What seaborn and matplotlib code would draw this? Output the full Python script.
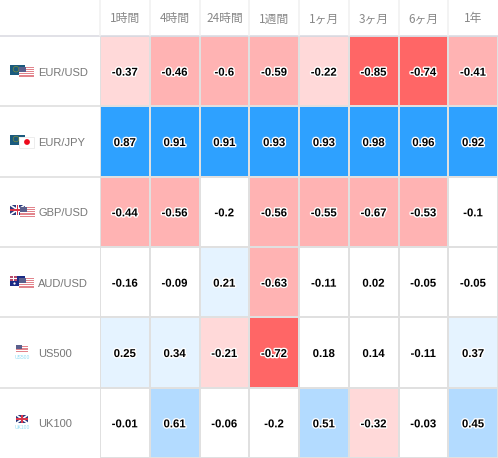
import matplotlib
matplotlib.use("Agg")
import matplotlib.pyplot as plt
import matplotlib.patheffects as pe
from matplotlib.colors import ListedColormap, BoundaryNorm
from matplotlib.patches import Rectangle, Circle
from matplotlib.transforms import ScaledTranslation
import numpy as np
import pandas as pd
import seaborn as sns

periods = ["1時間", "4時間", "24時間", "1週間", "1ヶ月", "3ヶ月", "6ヶ月", "1年"]
symbols = ["EUR/USD", "EUR/JPY", "GBP/USD", "AUD/USD", "US500", "UK100"]
eur_usd = [-0.37, -0.46, -0.6, -0.59, -0.22, -0.85, -0.74, -0.41]
eur_jpy = [0.87, 0.91, 0.91, 0.93, 0.93, 0.98, 0.96, 0.92]
gbp_usd = [-0.44, -0.56, -0.2, -0.56, -0.55, -0.67, -0.53, -0.1]
aud_usd = [-0.16, -0.09, 0.21, -0.63, -0.11, 0.02, -0.05, -0.05]
us500 = [0.25, 0.34, -0.21, -0.72, 0.18, 0.14, -0.11, 0.37]
uk100 = [-0.01, 0.61, -0.06, -0.2, 0.51, -0.32, -0.03, 0.45]

bin_edges = [-1, -0.7, -0.4, -0.2, 0.2, 0.4, 0.7, 1]
bin_colors = ["#ff6666", "#ffb3b3", "#ffd9d9", "#ffffff", "#e5f3ff", "#b3dbff", "#2ea1ff"]

W, H = 498, 458
LEFT, TOP = 100, 36
df = pd.DataFrame([eur_usd, eur_jpy, gbp_usd, aud_usd, us500, uk100], index=symbols, columns=periods)

sns.set_theme(style="white")
plt.rcParams["font.family"] = ["Liberation Sans", "Noto Sans CJK JP", "DejaVu Sans"]

fig = plt.figure(figsize=(W / 100, H / 100), dpi=100)
ax = fig.add_axes([LEFT / W, 0, (W - LEFT) / W, (H - TOP) / H])
labels = df.map(lambda v: f"{v:g}")
sns.heatmap(df, ax=ax, cmap=ListedColormap(bin_colors), norm=BoundaryNorm(bin_edges, len(bin_colors)),
            cbar=False, annot=labels, fmt="", linewidths=1.4, linecolor="#e0e0e0",
            annot_kws={"fontsize": 8.2, "fontweight": "bold", "color": "black",
                       "path_effects": [pe.withStroke(linewidth=2, foreground="white")]})
shift_down = ScaledTranslation(0, -1.5 / 100, fig.dpi_scale_trans)
for t in ax.texts:
    t.set_clip_on(False)
    t.set_transform(t.get_transform() + shift_down)
ax.set_xlabel(""); ax.set_ylabel("")
ax.xaxis.tick_top()
ax.tick_params(axis="both", length=0)
ax.tick_params(axis="x", pad=7.6, labelsize=8.5, labelcolor="#888888")
ax.tick_params(axis="y", pad=44.5, labelsize=8, labelcolor="#777777")
plt.setp(ax.get_xticklabels(), rotation=0, family=["Noto Sans CJK JP", "DejaVu Sans"])
plt.setp(ax.get_yticklabels(), rotation=0, ha="left", va="center")
for t in ax.get_yticklabels():
    t.set_transform(t.get_transform() + shift_down)

# overlay in pixel coordinates for table rules and flag icons
ov = fig.add_axes([0, 0, 1, 1], zorder=5)
ov.set_xlim(0, W); ov.set_ylim(H, 0); ov.axis("off"); ov.patch.set_alpha(0)
row_h = (H - TOP) / len(symbols)
col_w = (W - LEFT) / len(periods)
ov.plot([0, W], [TOP, TOP], color="#d8d8e0", lw=1.1)
for i in range(1, len(symbols)):
    ov.plot([0, LEFT], [TOP + i * row_h] * 2, color="#dcdcdc", lw=1.1)
for j in range(len(periods)):
    ov.plot([LEFT + j * col_w] * 2, [0, TOP], color="#f0f0f0", lw=1.1)

def rect(x, y, w, h, c, z=6):
    ov.add_patch(Rectangle((x, y), w, h, fc=c, ec="none", zorder=z))

def flag_eu(x, y):
    rect(x, y, 15, 10, "#1a5a7e")
    ov.add_patch(Circle((x + 6, y + 4.5), 2.8, fc="none", ec="#7f8f3a", lw=0.5, zorder=6))

def flag_us(x, y, w=15, h=11, z=7):
    rect(x, y, w, h, "white", z)
    n = 5
    for k in range(n):
        rect(x, y + k * h / n, w, h / (2 * n), "#e2848c", z)
    rect(x, y, w * 0.48, h * 0.5, "#5a5f8c", z)

def flag_jp(x, y):
    rect(x, y, 15, 11, "white", 7)
    ov.add_patch(Rectangle((x, y), 15, 11, fc="none", ec="#e6e6e6", lw=0.5, zorder=7))
    ov.add_patch(Circle((x + 8, y + 5.5), 2.9, fc="#ee0a1c", ec="none", zorder=8))

def flag_uk(x, y, w=15, h=10):
    rect(x, y, w, h, "#2b3a7e")
    ov.plot([x, x + w], [y, y + h], color="white", lw=1.2, zorder=6)
    ov.plot([x, x + w], [y + h, y], color="white", lw=1.2, zorder=6)
    rect(x + w / 2 - 1.3, y, 2.6, h, "white")
    rect(x, y + h / 2 - 1.3, w, 2.6, "white")
    rect(x + w / 2 - 0.7, y, 1.4, h, "#d8354a")
    rect(x, y + h / 2 - 0.7, w, 1.4, "#d8354a")

def flag_au(x, y):
    rect(x, y, 15, 10, "#1a2a86")
    rect(x, y, 7, 5, "#b84a6a")
    rect(x + 3, y, 1, 5, "white")
    rect(x, y + 2, 7, 1, "white")
    ov.scatter([x + 3.5, x + 11, x + 12], [y + 7.5, y + 3, y + 7], s=2.5, c="white", lw=0, zorder=6)

centers = [TOP + (i + 0.5) * row_h for i in range(len(symbols))]
flag_eu(10, centers[0] - 6.5); flag_us(19, centers[0] - 4.5)
flag_eu(10, centers[1] - 7); flag_jp(19, centers[1] - 5)
flag_uk(10, centers[2] - 7); flag_us(20, centers[2] - 5)
flag_au(10, centers[3] - 6.5); flag_us(19, centers[3] - 4.5)
flag_us(16, centers[4] - 8, 12, 8)
flag_uk(16, centers[5] - 8, 12, 8.5)
for c, name in ((centers[4], "US500"), (centers[5], "UK100")):
    ov.text(22, c + 5, name, fontsize=3.6, color="#8fdcf5", ha="center", va="center")

fig.savefig("out.png", dpi=100, facecolor="white")
